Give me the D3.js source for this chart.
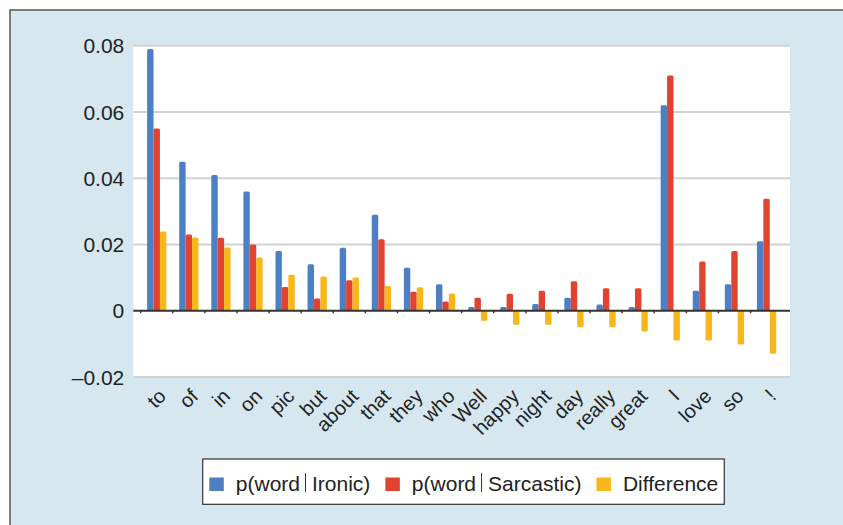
<!DOCTYPE html>
<html>
<head>
<meta charset="utf-8">
<script src="https://cdn.jsdelivr.net/npm/d3@7"></script>
<style>
  html, body { margin: 0; padding: 0; background: #ffffff; }
  svg { display: block; }
  text { font-family: "Liberation Sans", Arial, Helvetica, sans-serif; fill: #222; }
</style>
</head>
<body>
<svg id="chart" width="843" height="525"></svg>
<script>
// ---- data ----
const categories = ["to","of","in","on","pic","but","about","that","they","who","Well","happy","night","day","really","great","I","love","so","!"];
const ironic     = [0.079, 0.045, 0.041, 0.036, 0.018, 0.014, 0.019, 0.029, 0.013, 0.008, 0.0011, 0.0011, 0.002, 0.0039, 0.0019, 0.0011, 0.062, 0.006, 0.008, 0.021];
const sarcastic  = [0.055, 0.023, 0.022, 0.020, 0.0072, 0.0037, 0.0092, 0.0216, 0.0057, 0.0028, 0.0039, 0.0051, 0.006, 0.0089, 0.0068, 0.0068, 0.071, 0.0149, 0.018, 0.0338];
const difference = [0.0239, 0.0221, 0.0191, 0.0161, 0.0109, 0.0103, 0.0100, 0.0075, 0.0071, 0.0052, -0.0030, -0.0042, -0.0042, -0.0050, -0.0050, -0.0063, -0.0090, -0.0090, -0.0102, -0.0130];
const seriesNames = ["Ironic", "Sarcastic", "Difference"];
const seriesColors = ["#4f7fc3", "#e2432f", "#f9b719"];
const yTickValues = [-0.02, 0, 0.02, 0.04, 0.06, 0.08];
const yTickLabels = ["\u20130.02", "0", "0.02", "0.04", "0.06", "0.08"];

const seriesValues = [ironic, sarcastic, difference];

// ---- layout ----
const svg = d3.select("#chart");
const plot = { left: 133.3, right: 790, top: 45.7, bottom: 377 };

// outer frame
svg.append("rect")
  .attr("x", 10).attr("y", 10).attr("width", 900).attr("height", 600)
  .attr("fill", "#d6e7f0").attr("stroke", "#555").attr("stroke-width", 1.5);

// plot area
svg.append("rect")
  .attr("x", plot.left).attr("y", plot.top)
  .attr("width", plot.right - plot.left).attr("height", plot.bottom - plot.top)
  .attr("fill", "#ffffff");

const x0 = d3.scaleBand().domain(categories).range([plot.left, plot.right])
  .paddingInner(0.4).paddingOuter(0.43);
const x1 = d3.scaleBand().domain(seriesNames).range([0, x0.bandwidth()]).padding(0);
const y = d3.scaleLinear().domain([-0.02, 0.08]).range([plot.bottom, plot.top]);

// gridlines
svg.append("g").selectAll("line")
  .data(yTickValues.filter(v => v !== 0))
  .join("line")
  .attr("x1", plot.left).attr("x2", plot.right)
  .attr("y1", d => y(d)).attr("y2", d => y(d))
  .attr("stroke", "#d4d4d4").attr("stroke-width", 2);

// y axis labels
const yAxis = d3.axisLeft(y).tickValues(yTickValues)
  .tickFormat((d, i) => yTickLabels[i]).tickSize(0).tickPadding(0);
const yg = svg.append("g").attr("transform", `translate(${plot.left - 9},0)`).call(yAxis);
yg.select(".domain").remove();
yg.selectAll("text")
  .style("font-family", "\"Liberation Sans\", Arial, sans-serif")
  .style("font-size", "21px").attr("fill", "#222").attr("dy", "0.34em");

// bars
const groups = svg.append("g").selectAll("g")
  .data(categories)
  .join("g")
  .attr("transform", d => `translate(${x0(d)},0)`);

groups.selectAll("rect")
  .data((c, i) => seriesNames.map((s, k) => ({ s, v: seriesValues[k][i], color: seriesColors[k] })))
  .join("rect")
  .attr("x", d => x1(d.s))
  .attr("width", x1.bandwidth())
  .attr("y", d => Math.min(y(d.v), y(0)))
  .attr("height", d => Math.abs(y(d.v) - y(0)))
  .attr("rx", 1.5)
  .attr("fill", d => d.color);

// zero line
svg.append("line")
  .attr("x1", plot.left).attr("x2", plot.right)
  .attr("y1", y(0)).attr("y2", y(0))
  .attr("stroke", "#333").attr("stroke-width", 1.8);

// small ticks at category boundaries
const step = x0.step();
const boundaries = categories.map(c => x0(c) - (step - x0.bandwidth()) / 2);
svg.append("g").selectAll("line")
  .data(boundaries)
  .join("line")
  .attr("x1", d => d).attr("x2", d => d)
  .attr("y1", y(0)).attr("y2", y(0) + 2.5)
  .attr("stroke", "#333").attr("stroke-width", 1.5);

// x labels
svg.append("g").selectAll("text")
  .data(categories)
  .join("text")
  .attr("transform", d => `translate(${x0(d) + x0.bandwidth() / 2 + 10.5},397.5) rotate(-45)`)
  .attr("text-anchor", "end")
  .style("font-size", "20px")
  .text(d => d);

// legend
const legend = svg.append("g");
const legendBox = legend.append("rect")
  .attr("fill", "#ffffff").attr("stroke", "#333").attr("stroke-width", 1.2);
const legendY = 491;
let cx = 209.3;
const legendLabels = [["p(word", "Ironic)"], ["p(word", "Sarcastic)"], ["Difference"]];
legendLabels.forEach((parts, k) => {
  legend.append("rect")
    .attr("x", cx).attr("y", 477.5).attr("width", 14.5).attr("height", 13.5)
    .attr("fill", seriesColors[k]);
  cx += 26.5;
  parts.forEach((p, j) => {
    const t = legend.append("text").attr("x", cx).attr("y", legendY)
      .style("font-size", "21px").text(p);
    cx += t.node().getComputedTextLength();
    if (j < parts.length - 1) {
      cx += 5.5;
      legend.append("line")
        .attr("x1", cx).attr("x2", cx).attr("y1", 473).attr("y2", 492)
        .attr("stroke", "#333").attr("stroke-width", 1);
      cx += 6.5;
    }
  });
  if (k < legendLabels.length - 1) cx += 15;
});
legendBox.attr("x", 202.7).attr("y", 459).attr("width", cx + 6 - 202.7).attr("height", 45.3);
</script>
</body>
</html>
